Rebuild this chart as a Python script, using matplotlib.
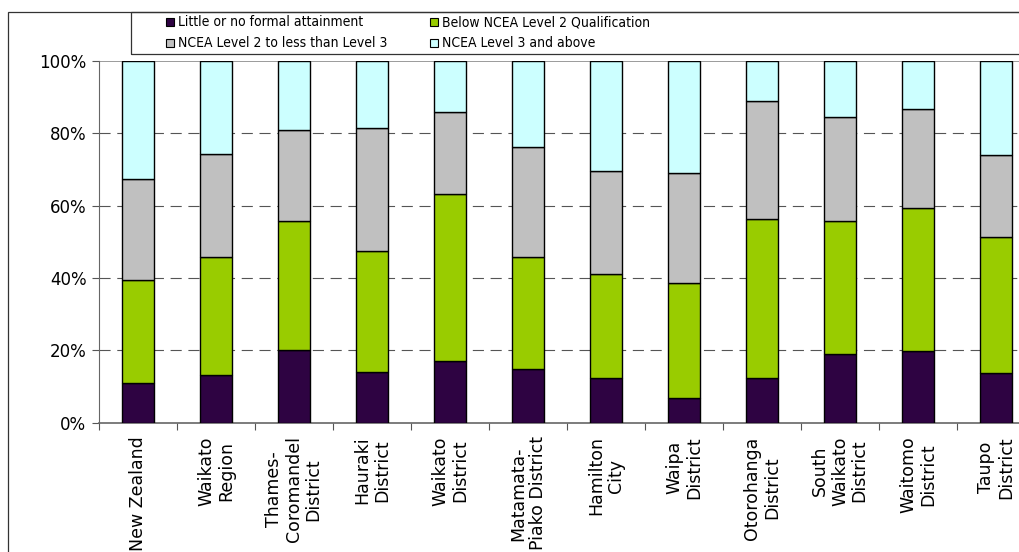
import numpy as np
import matplotlib
matplotlib.use("Agg")
import matplotlib.pyplot as plt
from matplotlib.patches import Rectangle

places = ["New Zealand", "Waikato\nRegion", "Thames-\nCoromandel\nDistrict",
          "Hauraki\nDistrict", "Waikato\nDistrict", "Matamata-\nPiako District",
          "Hamilton\nCity", "Waipa\nDistrict", "Otorohanga\nDistrict",
          "South\nWaikato\nDistrict", "Waitomo\nDistrict", "Taupo\nDistrict"]

series = ["Little or no formal attainment", "Below NCEA Level 2 Qualification",
          "NCEA Level 2 to less than Level 3", "NCEA Level 3 and above"]

# share of population (%) in each attainment group
little = [11.0, 13.1, 20.1, 13.9, 17.0, 14.8, 12.3, 6.9, 12.3, 18.9, 19.7, 13.6]
below_l2 = [28.5, 32.6, 35.6, 33.5, 46.2, 30.9, 28.9, 31.7, 43.9, 36.8, 39.7, 37.8]
l2_to_l3 = [27.8, 28.6, 25.3, 34.1, 22.7, 30.4, 28.4, 30.5, 32.8, 28.8, 27.3, 22.6]
l3_plus = [32.7, 25.7, 19.0, 18.5, 14.1, 23.9, 30.4, 30.9, 11.0, 15.5, 13.3, 26.0]

colors = ["#2e0342", "#99cc00", "#c0c0c0", "#ccffff"]

W, H = 1020, 552
fig = plt.figure(figsize=(W / 100, H / 100), dpi=100)

# plot area, right edge runs past the figure
ax = fig.add_axes([99 / W, (H - 422.5) / H, 936 / W, 361.5 / H])

x = np.arange(len(places))
bottom = np.zeros(len(places))
for vals, c in zip([little, below_l2, l2_to_l3, l3_plus], colors):
    ax.bar(x, vals, width=0.41, bottom=bottom, color=c, edgecolor="black",
           linewidth=1.0, zorder=3)
    bottom += np.array(vals)

ax.set_xlim(-0.5, len(places) - 0.5)
ax.set_ylim(0, 100)

for y in [20, 40, 60, 80]:
    ax.axhline(y, color="#555555", lw=0.8, ls=(0, (10, 6)), zorder=1)
ax.axhline(100, color="#8a8a8a", lw=1.2, zorder=1)

ax.set_yticks([0, 20, 40, 60, 80, 100])
ax.set_yticklabels([f"{v}%" for v in [0, 20, 40, 60, 80, 100]])
ax.set_xticks(np.arange(len(places) + 1) - 0.5)
ax.set_xticklabels([])
ax.set_xticks(x, minor=True)
ax.set_xticklabels(places, minor=True, rotation=90, va="top", ha="center",
                   multialignment="center", linespacing=1.12)
ax.tick_params(axis="x", which="minor", length=0, pad=10, labelsize=12.5)
ax.tick_params(axis="x", which="major", length=5, color="#555555", direction="out")
ax.tick_params(axis="y", length=5, color="#555555", labelsize=12, pad=4)

for s in ["top", "right"]:
    ax.spines[s].set_visible(False)
ax.spines["left"].set_color("#666666")
ax.spines["bottom"].set_color("#666666")
ax.spines["bottom"].set_linewidth(1.2)

# outer chart border and legend box
fig.patches.append(Rectangle((8 / W, -0.1), 1.2, (H - 12) / H + 0.1,
                             transform=fig.transFigure, fill=False,
                             edgecolor="#333333", lw=0.9))
fig.patches.append(Rectangle((131 / W, (H - 54) / H), 1.0, 42 / H,
                             transform=fig.transFigure, fill=False,
                             edgecolor="#333333", lw=0.9))

# legend entries, two columns
col_x = [166, 430]
row_y = [22, 43]
order = [(0, 0), (1, 0), (0, 1), (1, 1)]
for (col, row), name, c in zip(order, series, colors):
    fig.patches.append(Rectangle((col_x[col] / W, (H - row_y[row] - 4) / H),
                                 8 / W, 8 / H, transform=fig.transFigure,
                                 facecolor=c, edgecolor="black", lw=0.8))
    fig.text((col_x[col] + 12) / W, (H - row_y[row]) / H, name, va="center",
             ha="left", fontsize=10, family="DejaVu Sans",
             fontstretch="condensed")

fig.savefig("out.png", dpi=100)
